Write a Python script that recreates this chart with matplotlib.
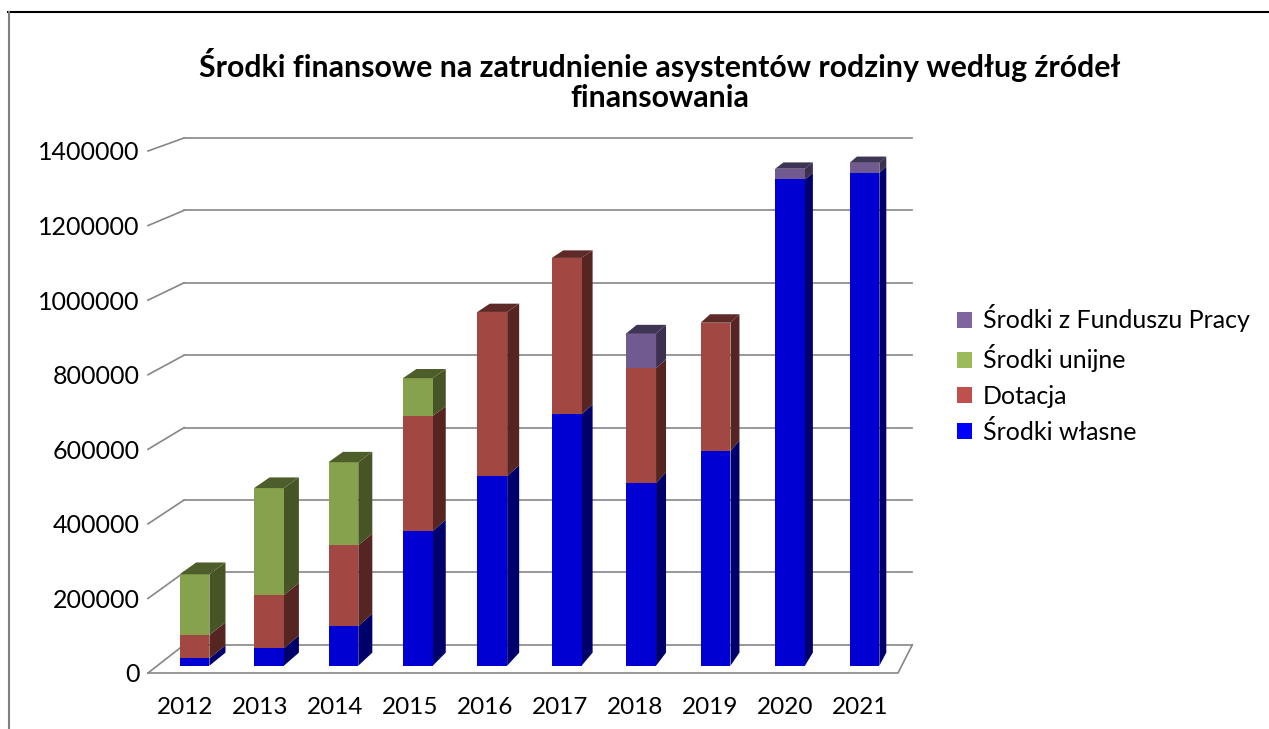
import matplotlib
matplotlib.use("Agg")
import matplotlib.pyplot as plt
from matplotlib.patches import Polygon, Patch
from matplotlib.lines import Line2D

plt.rcParams['font.family'] = ['Lato', 'DejaVu Sans']

years = ["2012", "2013", "2014", "2015", "2016", "2017", "2018", "2019", "2020", "2021"]
wlasne = [20000, 47000, 107000, 364000, 513000, 680000, 494000, 581000, 1314000, 1332000]
dotacja = [63000, 144000, 219000, 311000, 443000, 422000, 310000, 346000, 0, 0]
unijne = [164000, 289000, 224000, 102000, 0, 0, 0, 0, 0, 0]
fundusz = [0, 0, 0, 0, 0, 0, 94000, 0, 29000, 27000]
yticks = [0, 200000, 400000, 600000, 800000, 1000000, 1200000, 1400000]

# (name, values, front, side, top, legend colour) - stacked bottom to top
series = [
    ("Środki własne", wlasne, "#0000d2", "#00006c", "#00007a", "#0000ff"),
    ("Dotacja", dotacja, "#a34742", "#562522", "#5e2a27", "#c0504d"),
    ("Środki unijne", unijne, "#87a24d", "#475526", "#4e5e2b", "#9bbb59"),
    ("Środki z Funduszu Pracy", fundusz, "#705a90", "#3b3050", "#3e3454", "#8064a2"),
]

W, H = 1269, 729
fig = plt.figure(figsize=(W / 100, H / 100), dpi=100)
ax = fig.add_axes([148 / W, (H - 673) / H, 750 / W, 522 / H])
ax.set_xlim(-0.5, 9.5)
ax.set_ylim(0, 1400000)

# simple one-point perspective toward a vanishing point (data units)
VX = -0.5 + (1390 - 148) / 75.0
VY = (673 + 297) / 522.0 * 1400000
K_WALL = 0.971
K_FRONT = 0.9925
K_BACK = 0.979


def P(x, y, k):
    return (VX + k * (x - VX), VY + k * (y - VY))


grid_col = "#868686"
x0, x1 = -0.5, 9.5
for v in yticks:
    a, b = P(x0, v, K_WALL), P(x1, v, K_WALL)
    ax.plot([a[0], b[0]], [a[1], b[1]], color=grid_col, lw=1.2, zorder=1, clip_on=False)
    c = P(x0, v, 1.0)
    ax.plot([c[0], a[0]], [c[1], a[1]], color=grid_col, lw=1.2, zorder=1, clip_on=False)
# floor front and right edge
fr = P(x1, 0, K_WALL)
ax.plot([x0, x1, fr[0]], [0, 0, fr[1]], color=grid_col, lw=1.2, zorder=1, clip_on=False)

hw = 0.2
for i in range(len(years)):
    base = 0
    top_idx = max(j for j, s in enumerate(series) if s[1][i] > 0)
    for j, (name, vals, fc, sc, tc, lc) in enumerate(series):
        v = vals[i]
        if v <= 0:
            continue
        bl, br = i - hw, i + hw
        b, t = base, base + v
        front = [P(bl, b, K_FRONT), P(br, b, K_FRONT), P(br, t, K_FRONT), P(bl, t, K_FRONT)]
        side = [P(br, b, K_FRONT), P(br, b, K_BACK), P(br, t, K_BACK), P(br, t, K_FRONT)]
        ax.add_patch(Polygon(side, closed=True, fc=sc, ec="none", zorder=3, clip_on=False))
        ax.add_patch(Polygon(front, closed=True, fc=fc, ec="none", zorder=4, clip_on=False))
        if j == top_idx:
            topf = [P(bl, t, K_FRONT), P(br, t, K_FRONT), P(br, t, K_BACK), P(bl, t, K_BACK)]
            ax.add_patch(Polygon(topf, closed=True, fc=tc, ec="none", zorder=4, clip_on=False))
        base = t

for s in ax.spines.values():
    s.set_visible(False)
ax.set_yticks(yticks)
ax.set_yticklabels([str(v) for v in yticks])
ax.set_xticks(range(len(years)))
ax.set_xticklabels(years)
ax.tick_params(axis="y", length=0, pad=6, labelsize=18)
ax.tick_params(axis="x", length=0, pad=17, labelsize=17.5)

handles = [Patch(fc=s[5], ec="none", label=s[0]) for s in reversed(series)]
fig.legend(handles=handles, loc="center left", bbox_to_anchor=(944 / W, 1 - 374 / H),
           frameon=False, fontsize=18, handlelength=0.6, handleheight=0.6,
           handletextpad=0.45, labelspacing=0.48, borderpad=0)

fig.text(660 / W, 1 - 80 / H,
         "Środki finansowe na zatrudnienie asystentów rodziny według źródeł\nfinansowania",
         ha="center", va="center", fontsize=21.8, fontweight="bold", linespacing=1.1)

# chart border (top and left edges visible)
fig.add_artist(Line2D([8 / W, 1.0], [1 - 12 / H, 1 - 12 / H], color="black", lw=1.5))
fig.add_artist(Line2D([8.5 / W, 8.5 / W], [0, 1 - 12 / H], color="#7f7f7f", lw=1.5))

fig.savefig("out.png", dpi=100)
